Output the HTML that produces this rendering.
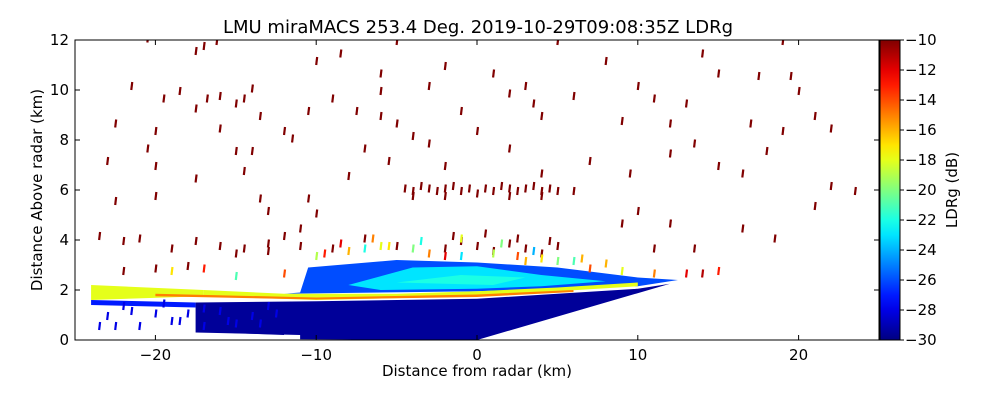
<!DOCTYPE html>
<html><head><meta charset="utf-8"><style>
body{margin:0;background:#fff;width:1000px;height:400px;overflow:hidden}
svg{font-family:"DejaVu Sans","Liberation Sans",sans-serif}
</style></head><body>
<svg id="c" width="1000" height="400"></svg>
<script>
// ---- data (km, dB) ----
const xTicks=[-20,-10,0,10,20];
const yTicks=[0,2,4,6,8,10,12];
const cbTicks=[-10,-12,-14,-16,-18,-20,-22,-24,-26,-28,-30];
const regionVals=[-29.5,-26,-23,-18,-18,-15,-27,-22,-29.5];
const regionPolys=[
 [[-17.5,0.3],[-17.5,1.5],[-10,1.55],[0,1.65],[5,1.85],[10,2.05],[12,2.25],[0,0],[-11,0.03],[-11,0.2]],
 [[-11,1.9],[-10.5,2.9],[-5,3.2],[0,3.1],[5,2.9],[10,2.5],[12.5,2.4],[10,2.15],[0,1.95],[-12,1.85]],
 [[-8,2.2],[-4,2.9],[0,2.95],[4,2.6],[8,2.35],[4,2.15],[0,2.05],[-6,2.0]],
 [[-24,2.2],[-17,2.0],[-17,1.75],[-24,1.6]],
 [[-17,2.0],[-12,1.85],[-5,1.85],[0,1.95],[5,2.1],[10,2.3],[10,2.15],[5,1.95],[0,1.75],[-10,1.6],[-17,1.75]],
 [[-20,1.85],[-10,1.7],[0,1.82],[6,2.0],[6,1.92],[0,1.72],[-10,1.62],[-20,1.75]],
 [[-24,1.6],[-17.5,1.5],[-17.5,1.3],[-24,1.4]],
 [[-5,2.3],[-1,2.6],[3,2.5],[1,2.2]],
 [[-16,0.3],[-16,1.2],[-12,1.2],[-12,0.2]]
];
const redX=[-20.5,-17.5,-17,-16.2,-21.5,-19.5,-18.5,-17.5,-16.8,-16,-15,-14.5,-14,-13.5,-12,-16,-20,-22.5,-20.5,-15,-14,-11.5,-20,-23,-17.5,-14.5,-13.5,-10.5,-10,-13,-20,-22.5,-23.5,-22,-21,-19,-17.5,-16,-14.5,-13,-11,-12,-9,-8.5,-7.5,-6,-5,-5,-7,-8,-5.5,-4,-3,-2,-1,0,1,2,3,4,5,6,8,9,10,11,12,13,14,15,12,13.5,15,16.5,18,17,19,20,21,22,19.5,17.5,19,21,22,23.5,16.5,18.5,13.5,12,10,11,9,9.5,7,6,4,-2,2,-3,-6,-6,3.5,-10,-10.5,
 -4.5,-4,-3.5,-3,-2.5,-2,-1.5,-1,-0.5,0.5,1,1.5,2,2.5,3,3.5,4,4.5,5,-4,-2,0,2,4,
 -2,-1,0,1,2,3,4,5,-1.5,0.5,2.5,4.5,-7,-5,-9,-11,-13,-15,-18,-20,-22];
const redY=[11.9,11.4,11.6,11.8,10,9.5,9.8,9.1,9.5,9.6,9.3,9.5,9.9,8.8,8.2,8.3,8.2,8.5,7.5,7.4,7.4,7.9,6.8,7,6.3,6.6,5.5,5.5,4.9,5,5.6,5.4,4,3.8,3.9,3.5,3.8,3.6,3.5,3.7,4.3,4,9.5,11.3,9,10.5,11.8,8.5,7.5,6.4,7,8,10,10.8,9,8.2,10.5,9.7,10,8.8,11.8,9.6,11,8.6,10,9.5,8.5,9.3,11.3,10.5,7.3,7.7,6.8,6.5,7.4,8.5,8.2,9.8,8.8,8.3,10.4,10.4,11.8,5.2,6,5.8,4.3,3.9,3.5,4.5,5,3.5,4.5,6.5,7,5.8,6.5,6.8,7.5,7.7,8.8,9.8,9.3,11,9,
 5.9,5.8,6,5.9,5.8,5.9,6,5.8,5.9,5.9,5.8,6,5.9,5.8,5.9,6,5.8,5.9,5.8,5.6,5.6,5.7,5.6,5.6,
 3.5,3.8,3.6,3.4,3.7,3.5,3.3,3.6,4.0,4.1,3.9,3.8,3.9,3.6,3.5,3.6,3.4,3.3,2.8,2.7,2.6];
const lowX=[-23.5,-23,-22,-20,-19.5,-18.5,-17,-16,-15,-14,-13,-12.5,-22.5,-21,-19,-17,-15.5,-13.5,-21.5,-18];
const lowY=[0.4,0.8,1.2,0.9,1.3,0.6,1.1,1.0,0.5,0.8,1.2,0.9,0.4,0.4,0.6,0.4,0.6,0.5,1.0,0.9];
const midX=[-8,-6,-4,-3,-1,1,2.5,4,6,8,-9.5,-7,-5.5,-2,3,5,7,9,11,13,14,15,-19,-17,-15,-12,-10,-8.5,-6.5,-3.5,-1,1.5,3.5,6.5];
const midY=[3.4,3.6,3.5,3.3,3.2,3.3,3.2,3.1,3.0,2.9,3.3,3.5,3.6,3.2,3.0,3.0,2.7,2.6,2.5,2.5,2.5,2.6,2.6,2.7,2.4,2.5,3.2,3.7,3.9,3.8,3.9,3.7,3.4,3.1];
const midV=[-16,-18,-20,-15,-23,-19,-14,-17,-21,-16,-13,-22,-17,-12,-16,-20,-14,-18,-15,-12,-11,-13,-17,-13,-21,-14,-19,-12,-15,-22,-18,-20,-24,-16];
// ---- scales ----
const X0=75,X1=879,Y0=340,Y1=40;
const px=x=>X0+(x+25)/50*(X1-X0);
const py=y=>Y0-y/12*(Y0-Y1);
function jet(v){let t=(v+30)/20;t=Math.max(0,Math.min(1,t));
 const f=a=>Math.round(255*Math.max(0,Math.min(1,1.5-Math.abs(4*t-a))));
 return `rgb(${f(3)},${f(2)},${f(1)})`;}
const svg=document.getElementById('c');const NS='http://www.w3.org/2000/svg';
function el(t,a,p){const e=document.createElementNS(NS,t);for(const k in a)e.setAttribute(k,a[k]);(p||svg).appendChild(e);return e;}
const defs=el('defs',{});
const cp=el('clipPath',{id:'pc'},defs);el('rect',{x:X0,y:Y1,width:X1-X0,height:Y0-Y1},cp);
const g=el('g',{'clip-path':'url(#pc)'});


regionPolys.forEach((p,i)=>{const r=el('polygon',{points:p.map(q=>px(q[0])+','+py(q[1])).join(' '),fill:jet(regionVals[i])},g);
 
 });
function streak(x,y,v){const s=el('line',{x1:px(x),y1:py(y),x2:px(x+0.06),y2:py(y+0.32),stroke:jet(v),'stroke-width':2.2},g);
 
 }
redX.forEach((x,i)=>streak(x,redY[i],-10));
lowX.forEach((x,i)=>streak(x,lowY[i],-28));
midX.forEach((x,i)=>streak(x,midY[i],midV[i]));
const box=el('rect',{x:X0,y:Y1,width:X1-X0,height:Y0-Y1,fill:'none',stroke:'#000','stroke-width':1});


xTicks.forEach(t=>{const x=px(t);el('line',{x1:x,x2:x,y1:Y0,y2:Y0-5,stroke:'#000'});el('line',{x1:x,x2:x,y1:Y1,y2:Y1+5,stroke:'#000'});
 const l=el('text',{x:x,y:Y0+20,'text-anchor':'middle','font-size':15});l.textContent=(t<0?'\u2212':'')+Math.abs(t);
 
 });
yTicks.forEach(t=>{const y=py(t);el('line',{x1:X0,x2:X0+5,y1:y,y2:y,stroke:'#000'});el('line',{x1:X1,x2:X1-5,y1:y,y2:y,stroke:'#000'});
 const l=el('text',{x:X0-6,y:y+5,'text-anchor':'end','font-size':15});l.textContent=t;
 
 });
let t=el('text',{x:477,y:376,'text-anchor':'middle','font-size':15});t.textContent='Distance from radar (km)';

t=el('text',{x:42,y:190,'text-anchor':'middle','font-size':15,transform:'rotate(-90 42 190)'});t.textContent='Distance Above radar  (km)';

t=el('text',{x:478,y:33,'text-anchor':'middle','font-size':18});t.textContent='LMU miraMACS 253.4 Deg. 2019-10-29T09:08:35Z  LDRg';

const lg=el('linearGradient',{id:'jg',x1:0,y1:1,x2:0,y2:0},defs);
for(let i=0;i<=20;i++){el('stop',{offset:i/20,'stop-color':jet(-30+i)},lg);}
const cb=el('rect',{x:880,y:40,width:20,height:300,fill:'url(#jg)',stroke:'#000','stroke-width':1});

cbTicks.forEach(v=>{const y=40+(-10-v)/20*300;el('line',{x1:900,x2:904,y1:y,y2:y,stroke:'#000'});
 const l=el('text',{x:905,y:y+5,'font-size':15});l.textContent='\u2212'+Math.abs(v);
 });
t=el('text',{x:957,y:190,'text-anchor':'middle','font-size':15,transform:'rotate(-90 957 190)'});t.textContent='LDRg (dB)';

</script>
</body></html>
